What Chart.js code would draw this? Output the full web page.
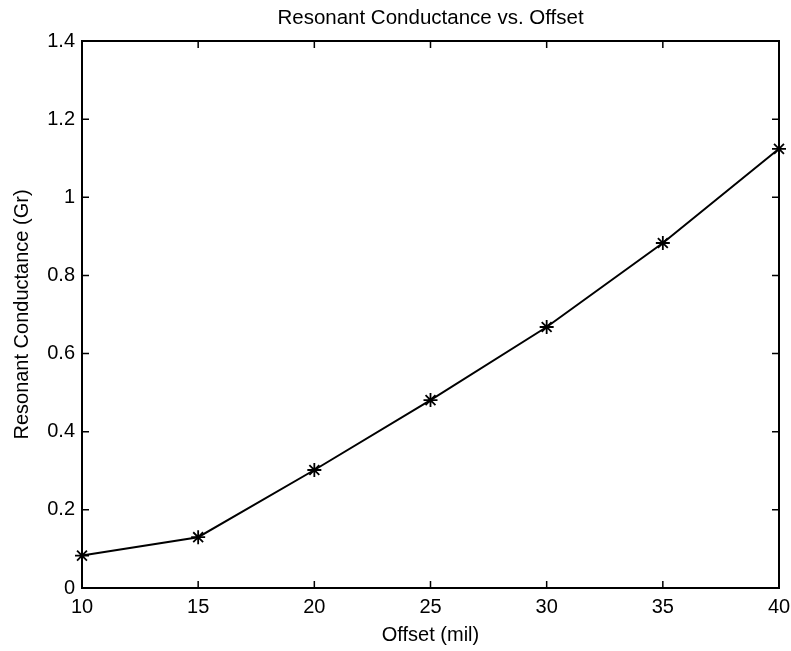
<!DOCTYPE html>
<html>
<head>
<meta charset="utf-8">
<script src="https://cdn.jsdelivr.net/npm/chart.js@4"></script>
<style>
  html, body { margin: 0; padding: 0; background: #fff; }
  #wrap { width: 791px; height: 651px; }
</style>
</head>
<body>
<div id="wrap"><canvas id="myChart" width="791" height="651"></canvas></div>
<script>
// offset (mil) against resonant conductance
const offsets = [10, 15, 20, 25, 30, 35, 40];
const conductance = [0.083, 0.13, 0.302, 0.481, 0.668, 0.883, 1.124];
const xTicks = [10, 15, 20, 25, 30, 35, 40];
const yTicks = [0, 0.2, 0.4, 0.6, 0.8, 1, 1.2, 1.4];

const FONT = 'Liberation Sans, Arial, Helvetica, sans-serif';

// matlab-ish box with inward ticks on all four sides
const frame = {
    id: 'frame',
    afterDatasetsDraw(chart) {
        const {ctx, chartArea: a, scales: {x, y}} = chart;
        const len = 7;
        ctx.save();
        ctx.strokeStyle = '#000';
        ctx.lineWidth = 2;
        ctx.strokeRect(a.left, a.top, a.right - a.left, a.bottom - a.top);
        ctx.lineWidth = 1.5;
        ctx.beginPath();
        for (const t of xTicks) {
            const px = x.getPixelForValue(t);
            ctx.moveTo(px, a.bottom); ctx.lineTo(px, a.bottom - len);
            ctx.moveTo(px, a.top); ctx.lineTo(px, a.top + len);
        }
        for (const t of yTicks) {
            const py = y.getPixelForValue(t);
            ctx.moveTo(a.left, py); ctx.lineTo(a.left + len, py);
            ctx.moveTo(a.right, py); ctx.lineTo(a.right - len, py);
        }
        ctx.stroke();
        ctx.restore();
    }
};

const points = offsets.map((o, i) => ({x: o, y: conductance[i]}));

const ctx = document.getElementById('myChart').getContext('2d');
const myChart = new Chart(ctx, {
    type: 'scatter',
    data: {
        datasets: [{
            data: points,
            showLine: true,
            borderColor: '#000',
            borderWidth: 2,
            pointStyle: 'star',
            pointRadius: 7,
            pointBorderWidth: 1.8,
            pointBorderColor: '#000',
            pointBackgroundColor: '#000',
            clip: false
        }]
    },
    options: {
        responsive: false,
        animation: false,
        layout: { padding: { left: 0, right: 12, top: 0, bottom: 0 } },
        plugins: {
            legend: { display: false },
            tooltip: { enabled: false },
            title: {
                display: true,
                fullSize: false,
                text: 'Resonant Conductance vs. Offset',
                color: '#000',
                font: { family: FONT, size: 20.5, weight: 'normal' },
                padding: { top: 6, bottom: 10.4 }
            }
        },
        scales: {
            x: {
                type: 'linear',
                min: 10,
                max: 40,
                afterBuildTicks: (s) => { s.ticks = xTicks.map(v => ({value: v})); },
                afterFit: (s) => { s.height = 63; s.paddingLeft = 0; s.paddingRight = 0; },
                grid: { display: false, drawTicks: false },
                border: { display: false },
                ticks: {
                    color: '#000',
                    padding: 7,
                    font: { family: FONT, size: 20 },
                    callback: (v) => String(v)
                },
                title: {
                    display: true,
                    text: 'Offset (mil)',
                    color: '#000',
                    font: { family: FONT, size: 20 },
                    padding: { top: 0, bottom: 4 }
                }
            },
            y: {
                type: 'linear',
                min: 0,
                max: 1.4,
                afterBuildTicks: (s) => { s.ticks = yTicks.map(v => ({value: v})); },
                afterFit: (s) => { s.width = 82; },
                grid: { display: false, drawTicks: false },
                border: { display: false },
                ticks: {
                    color: '#000',
                    padding: 7,
                    font: { family: FONT, size: 20 },
                    callback: (v) => String(v)
                },
                title: {
                    display: true,
                    text: 'Resonant Conductance (Gr)',
                    color: '#000',
                    font: { family: FONT, size: 20 },
                    padding: { top: 10, bottom: 0 }
                }
            }
        }
    },
    plugins: [frame]
});
</script>
</body>
</html>
